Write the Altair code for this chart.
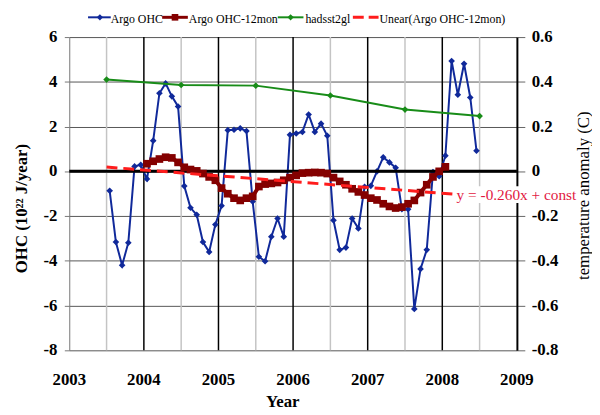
import altair as alt
import pandas as pd

FONT = "Liberation Serif, serif"

# ---------------- data ----------------
# Argo OHC, monthly, July 2003 .. June 2008 (10^22 J/year)
argo_ohc = [-0.87, -3.16, -4.2, -3.19, 0.22, 0.29,
            -0.34, 1.37, 3.49, 3.93, 3.35, 2.9, -0.66, -1.63, -1.94, -3.16, -3.6, -2.38,
            -1.54, 1.84, 1.86, 1.92, 1.8, -1.35, -3.82, -4.02, -2.92, -2.11, -2.92, 1.63,
            1.69, 1.76, 2.54, 1.76, 2.13, 1.59, -2.19, -3.51, -3.41, -2.11, -2.55, -0.69,
            -0.65, 0.0, 0.63, 0.4, 0.16, -1.69, -1.69, -6.15, -4.36, -3.51, -0.03, -0.22,
            0.7, 4.93, 3.42, 4.81, 3.3, 0.92]
argo_first_month = 6          # months after Jan 2003 (July 2003)

# Argo OHC 12-month running mean, Jan 2004 .. Jan 2008
argo_12mon = [0.34, 0.45, 0.55, 0.63, 0.6, 0.4, 0.18, 0.08, 0.02, -0.1, -0.25, -0.4,
              -0.75, -1.0, -1.2, -1.3, -1.2, -1.12, -0.68, -0.57, -0.54, -0.5, -0.4, -0.28,
              -0.18, -0.08, -0.06, -0.05, -0.06, -0.1, -0.28, -0.45, -0.6, -0.78, -0.92, -1.06,
              -1.2, -1.28, -1.45, -1.57, -1.64, -1.6, -1.45, -1.3, -0.95, -0.6, -0.25, 0.0,
              0.2]
argo12_first_month = 12       # Jan 2004

# hadsst2gl annual means (temperature anomaly, C)
had_years = [2003.5, 2004.5, 2005.5, 2006.5, 2007.5, 2008.5]
hadsst2gl = [0.41, 0.386, 0.383, 0.339, 0.276, 0.247]

# linear trend of Argo OHC-12mon (end points)
trend_years = [2003.5, 2008.15]
trend_vals = [0.19, -1.02]

year_ticks = [2003, 2004, 2005, 2006, 2007, 2008, 2009]
half_years = [2003.5, 2004.5, 2005.5, 2006.5, 2007.5, 2008.5]
inner_years = [2004, 2005, 2006, 2007, 2008]
ohc_ticks = [-8, -6, -4, -2, 0, 2, 4, 6]
temp_ticks = [-0.8, -0.6, -0.4, -0.2, 0, 0.2, 0.4, 0.6]

legend_labels = ["Argo OHC", "Argo OHC-12mon", "hadsst2gl", "Unear(Argo OHC-12mon)"]
trend_label = "y = -0.260x + const"
x_title = "Year"

# ---------------- frames ----------------
def month_years(first, n):
    return [2003 + (first + i + 0.5) / 12 for i in range(n)]

blue_df = pd.DataFrame({"year": month_years(argo_first_month, len(argo_ohc)), "ohc": argo_ohc})
red_df = pd.DataFrame({"year": month_years(argo12_first_month, len(argo_12mon)), "ohc": argo_12mon})
green_df = pd.DataFrame({"year": had_years, "temp": hadsst2gl})
trend_df = pd.DataFrame({"year": trend_years, "ohc": trend_vals})
half_df = pd.DataFrame({"year": half_years})
inner_df = pd.DataFrame({"year": inner_years})
tick_df = pd.DataFrame({"year": year_ticks})
ohc_tick_df = pd.DataFrame({"v": ohc_ticks, "lbl": [str(v) for v in ohc_ticks]})
temp_tick_df = pd.DataFrame({"v": temp_ticks,
                             "lbl": ["0" if v == 0 else f"{v:.1f}" for v in temp_ticks]})
zero_df = pd.DataFrame({"v": [0]})
one = pd.DataFrame({"a": [0]})

BLUE = "#10299a"
DRED = "#840000"
GREEN = "#188c18"
RED = "#ff1c1c"
LABELRED = "#e2183f"

xscale = alt.Scale(domain=[2003, 2009], nice=False, zero=False)
yscale = alt.Scale(domain=[-8, 6], nice=False, zero=False)
tscale = alt.Scale(domain=[-0.8, 0.6], nice=False, zero=False)

y_axis = alt.Axis(values=ohc_ticks, title="OHC (10²² J/year)", grid=True, gridColor="#555555",
                  gridWidth=1, domainColor="#777777", tickColor="#777777", tickSize=5,
                  labels=False,
                  titleFont=FONT, titleFontSize=17, titleFontWeight="bold",
                  titleColor="black", titleAngle=270, titleX=-48, titleY=173,
                  titleAlign="center", titleBaseline="middle")
t_axis = alt.Axis(values=temp_ticks, orient="right", title="temperature anomaly (C)", grid=False,
                  domainColor="black", domainWidth=2, tickColor="#666666", tickSize=8,
                  labels=False,
                  titleFont=FONT, titleFontSize=17, titleFontWeight="normal", titleColor="black",
                  titleAngle=270, titleX=67, titleY=160, titleAlign="center",
                  titleBaseline="middle")

X = lambda: alt.X("year:Q", scale=xscale, axis=None)
Y = lambda f: alt.Y(f, scale=yscale, axis=None)

half_grid = alt.Chart(half_df).mark_rule(color="#c4c4c4", strokeWidth=1.5).encode(x=X())
year_grid = alt.Chart(inner_df).mark_rule(color="black", strokeWidth=1.5).encode(x=X())

blue = alt.Chart(blue_df).mark_line(
    color=BLUE, strokeWidth=2,
    point=alt.OverlayMarkDef(shape="diamond", size=45, filled=True, color=BLUE)
).encode(x=X(), y=alt.Y("ohc:Q", scale=yscale, axis=y_axis))

zero_line = alt.Chart(zero_df).mark_rule(color="black", strokeWidth=3).encode(y=Y("v:Q"))

red = alt.Chart(red_df).mark_line(
    color=DRED, strokeWidth=4,
    point=alt.OverlayMarkDef(shape="square", size=60, filled=True, color=DRED)
).encode(x=X(), y=Y("ohc:Q"))

green = alt.Chart(green_df).mark_line(
    color=GREEN, strokeWidth=2,
    point=alt.OverlayMarkDef(shape="diamond", size=45, filled=True, color=GREEN)
).encode(x=X(), y=alt.Y("temp:Q", scale=tscale, axis=t_axis))

trend = alt.Chart(trend_df).mark_line(color=RED, strokeWidth=3, strokeDash=[11, 6]).encode(
    x=X(), y=Y("ohc:Q"))

# tick labels drawn as text through the scales
TXT = dict(font=FONT, fontSize=17, fontWeight="bold", color="black", baseline="middle")
x_labels = alt.Chart(tick_df).mark_text(**TXT).encode(
    x=X(), y=alt.value(347), text=alt.Text("year:Q", format="d"))
x_title_mark = alt.Chart(one).mark_text(text=x_title, **TXT).encode(
    x=alt.value(216), y=alt.value(369))
ohc_labels = alt.Chart(ohc_tick_df).mark_text(align="right", **TXT).encode(
    x=alt.value(-12), y=Y("v:Q"), text="lbl:N")
temp_labels = alt.Chart(temp_tick_df).mark_text(align="left", **TXT).encode(
    x=alt.value(468), y=alt.Y("v:Q", scale=tscale, axis=None), text="lbl:N")

label_bg = alt.Chart(one).mark_rect(color="white").encode(
    x=alt.value(391), x2=alt.value(511), y=alt.value(151), y2=alt.value(168))
label = alt.Chart(one).mark_text(text=trend_label, align="left", baseline="middle",
                                 font=FONT, fontSize=15.5, color=LABELRED).encode(
    x=alt.value(392), y=alt.value(160))

LY = -20
def leg_line(x0, x1, color, width=2, dash=None):
    kw = dict(color=color, strokeWidth=width)
    if dash:
        kw["strokeDash"] = dash
    return alt.Chart(one).mark_rule(**kw).encode(
        x=alt.value(x0), x2=alt.value(x1), y=alt.value(LY))

def leg_pt(x, shape, size, color):
    return alt.Chart(one).mark_point(shape=shape, size=size, filled=True, color=color,
                                     opacity=1).encode(x=alt.value(x), y=alt.value(LY))

def leg_txt(x, s):
    return alt.Chart(one).mark_text(text=s, align="left", baseline="middle", font=FONT,
                                    fontSize=12, color="black").encode(
        x=alt.value(x), y=alt.value(LY + 2))

legend = [
    leg_line(19, 42, BLUE), leg_pt(31, "diamond", 40, BLUE), leg_txt(42, legend_labels[0]),
    leg_line(94, 120, DRED, 3), leg_pt(107, "square", 45, DRED), leg_txt(121, legend_labels[1]),
    leg_line(211, 237, GREEN), leg_pt(224, "diamond", 40, GREEN), leg_txt(239, legend_labels[2]),
    leg_line(287, 313, RED, 3, [11, 5]), leg_txt(314, legend_labels[3]),
]

chart = alt.layer(half_grid, year_grid, blue, zero_line, red, green, trend,
                  x_labels, x_title_mark, ohc_labels, temp_labels, label_bg, label, *legend
                  ).resolve_scale(y="independent").properties(
    width=453, height=317,
    padding={"left": 62, "top": 27, "right": 76, "bottom": 61},
    autosize=alt.AutoSizeParams(type="none"),
    background="white",
).configure_view(strokeWidth=0)

chart.save("out.html", embed_options={"renderer": "svg", "actions": False})
